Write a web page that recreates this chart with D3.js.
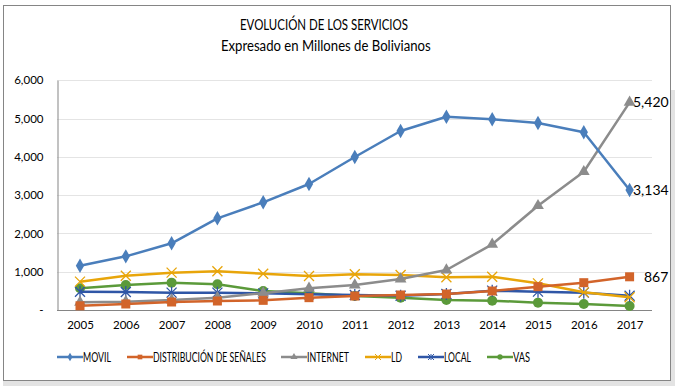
<!DOCTYPE html>
<meta charset="utf-8">
<script src="https://d3js.org/d3.v7.min.js"></script>
<style>
  body { margin: 0; background: #fff; }
  text { font-family: Lato, "Liberation Sans", sans-serif; fill: #000; }
</style>
<div id="chart"></div>
<script>

// years on the x axis
var years = ["2005","2006","2007","2008","2009","2010","2011","2012","2013","2014","2015","2016","2017"];

// values per service (millions of Bs)
var movil    = [1157, 1401, 1741, 2394, 2812, 3290, 3995, 4674, 5047, 4979, 4883, 4640, 3134];
var distrib  = [110, 157, 209, 235, 252, 322, 365, 392, 418, 496, 609, 713, 867];
var internet = [200, 217, 261, 322, 440, 566, 653, 809, 1044, 1715, 2723, 3611, 5420];
var ld       = [740, 896, 975, 1010, 948, 888, 935, 914, 853, 870, 696, 461, 331];
var local    = [478, 470, 453, 453, 435, 409, 392, 374, 418, 505, 479, 453, 374];
var vas      = [566, 653, 714, 670, 496, 435, 365, 322, 261, 244, 192, 157, 104];

var yTicks = [0, 1000, 2000, 3000, 4000, 5000, 6000];

var series = [
  {name: "MOVIL", values: movil, color: "#4a7ebb", marker: "diamond", label: "3,134"},
  {name: "DISTRIBUCIÓN DE SEÑALES", values: distrib, color: "#d2642a", marker: "square", label: "867"},
  {name: "INTERNET", values: internet, color: "#8c8c8c", marker: "triangle", label: "5,420"},
  {name: "LD", values: ld, color: "#e8a50a", marker: "x"},
  {name: "LOCAL", values: local, color: "#2f56a6", marker: "star"},
  {name: "VAS", values: vas, color: "#5b9a3a", marker: "circle"}
];

var W = 675, H = 386;
var svg = d3.select("#chart").append("svg").attr("width", W).attr("height", H);

// squeeze a text horizontally to a given width (Calibri-like narrow look)
function squeeze(sel, tx, ty, w, anchor) {
  var natural = sel.node().getComputedTextLength();
  var sx = w / natural;
  var x0 = anchor === "middle" ? tx - w / 2 : tx;
  sel.attr("x", 0).attr("y", 0).attr("text-anchor", "start")
    .attr("transform", "translate(" + x0 + "," + ty + ") scale(" + sx + ",1)");
}

// shadow + frame
svg.append("rect").attr("x", 671).attr("y", 90).attr("width", 4).attr("height", 296).attr("fill", "#e3e3e3");
svg.append("rect").attr("x", 3).attr("y", 381).attr("width", 672).attr("height", 5).attr("fill", "#e3e3e3");
svg.append("rect").attr("x", 3.5).attr("y", 5.5).attr("width", 667).attr("height", 375)
  .attr("fill", "#fff").attr("stroke", "#858585").attr("stroke-width", 1);

// titles
var t1 = svg.append("text").style("font-size", "16px").text("EVOLUCIÓN DE LOS SERVICIOS");
squeeze(t1, 324, 30, 168, "middle");
var t2 = svg.append("text").style("font-size", "16px").text("Expresado en Millones de Bolivianos");
squeeze(t2, 326, 51, 210, "middle");

var x = d3.scalePoint().domain(years).range([80, 629.6]);
var y = d3.scaleLinear().domain([0, 6000]).range([310, 80.2]);

// gridlines
svg.append("g").selectAll("line").data(yTicks.slice(1)).enter().append("line")
  .attr("x1", 57).attr("x2", 652)
  .attr("y1", function(d) { return Math.round(y(d)) + 0.5; })
  .attr("y2", function(d) { return Math.round(y(d)) + 0.5; })
  .attr("stroke", "#e4e4e4").attr("stroke-width", 1);

// y axis
var yAxis = svg.append("g").attr("transform", "translate(57.5,0)")
  .call(d3.axisLeft(y).tickValues(yTicks).tickSize(0).tickPadding(14)
    .tickFormat(function(d) { return d === 0 ? "-" : d3.format(",")(d); }));
yAxis.select(".domain").attr("stroke", "#858585");
yAxis.selectAll("text").style("font-size", "11.5px").style("font-family", "Lato, sans-serif");

// x axis
var xAxis = svg.append("g").attr("transform", "translate(0,310.5)")
  .call(d3.axisBottom(x).tickSize(0).tickPadding(10));
xAxis.select(".domain").attr("d", "M57,0H652").attr("stroke", "#858585");
xAxis.selectAll("text").style("font-size", "11.5px").style("font-family", "Lato, sans-serif");

// marker shapes
function drawMarker(g, type, color, cx, cy) {
  if (type === "diamond") {
    g.append("path").attr("d", d3.symbol().type(d3.symbolDiamond).size(60)())
      .attr("transform", "translate(" + cx + "," + cy + ")").attr("fill", color);
  } else if (type === "square") {
    g.append("rect").attr("x", cx - 4.5).attr("y", cy - 4.5).attr("width", 9).attr("height", 9).attr("fill", color);
  } else if (type === "triangle") {
    g.append("path").attr("d", d3.symbol().type(d3.symbolTriangle).size(60)())
      .attr("transform", "translate(" + cx + "," + cy + ")").attr("fill", color);
  } else if (type === "circle") {
    g.append("circle").attr("cx", cx).attr("cy", cy).attr("r", 5).attr("fill", color);
  } else if (type === "x" || type === "star") {
    var s = 5;
    g.append("path").attr("d", "M" + (cx - s) + "," + (cy - s) + "L" + (cx + s) + "," + (cy + s) +
      "M" + (cx - s) + "," + (cy + s) + "L" + (cx + s) + "," + (cy - s) +
      (type === "star" ? "M" + cx + "," + (cy - s - 1) + "L" + cx + "," + (cy + s + 1) : ""))
      .attr("stroke", color).attr("stroke-width", 1.3).attr("fill", "none");
  }
}

var line = d3.line()
  .x(function(d, i) { return x(years[i]); })
  .y(function(d) { return y(d); });

// draw in reverse so MOVIL sits on top
series.slice().reverse().forEach(function(s) {
  var g = svg.append("g");
  g.append("path").datum(s.values).attr("d", line)
    .attr("fill", "none").attr("stroke", s.color).attr("stroke-width", 2.5)
    .attr("stroke-linejoin", "round");
  s.values.forEach(function(v, i) { drawMarker(g, s.marker, s.color, x(years[i]), y(v)); });
  if (s.label) {
    var last = s.values[s.values.length - 1];
    g.append("text").attr("x", s.name === "DISTRIBUCIÓN DE SEÑALES" ? 644 : 633)
      .attr("y", y(last) + 5).style("font-size", "14px").text(s.label);
  }
});

// legend
var legendX = [57, 127, 281, 365, 418, 487];
var legendW = [28, 113, 42, 11, 27, 17];
var legend = svg.append("g");
series.forEach(function(s, i) {
  var lx = legendX[i], ly = 357;
  legend.append("line").attr("x1", lx).attr("x2", lx + 26).attr("y1", ly).attr("y2", ly)
    .attr("stroke", s.color).attr("stroke-width", 2.5);
  var m = legend.append("g");
  if (s.marker === "x" || s.marker === "star") {
    var c = lx + 13, sz = 3;
    m.append("path").attr("d", "M" + (c - sz) + "," + (ly - sz) + "L" + (c + sz) + "," + (ly + sz) +
      "M" + (c - sz) + "," + (ly + sz) + "L" + (c + sz) + "," + (ly - sz) +
      (s.marker === "star" ? "M" + c + "," + (ly - sz) + "L" + c + "," + (ly + sz) : ""))
      .attr("stroke", s.color).attr("stroke-width", 1).attr("fill", "none");
  } else {
    var sym = {diamond: d3.symbolDiamond, square: d3.symbolSquare, triangle: d3.symbolTriangle, circle: d3.symbolCircle}[s.marker];
    m.append("path").attr("d", d3.symbol().type(sym).size(22)())
      .attr("transform", "translate(" + (lx + 13) + "," + ly + ")").attr("fill", s.color);
  }
  var t = legend.append("text").style("font-size", "12.5px").text(s.name);
  squeeze(t, lx + 26, ly + 4.5, legendW[i], "start");
});

</script>
